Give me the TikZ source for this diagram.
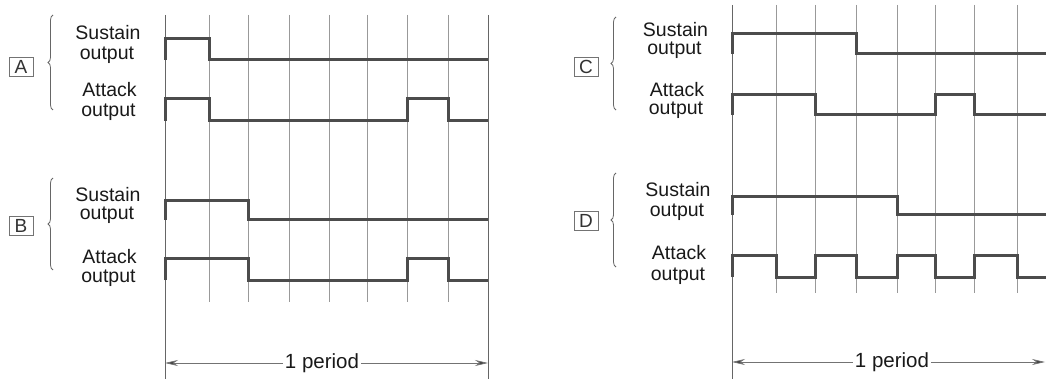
\documentclass[tikz,border=0pt]{standalone}
\usepackage{fontspec}
\setmainfont{Liberation Sans}
\usetikzlibrary{decorations.pathreplacing,arrows.meta}
\begin{document}
\begin{tikzpicture}[x=1pt,y=-1pt,
  grid/.style={line width=0.8pt, draw=black!40},
  edge/.style={line width=1pt, draw=black!60},
  sig/.style={line width=3pt, draw=black!70, line join=miter},
  lbl/.style={font=\fontsize{19.5}{20}\selectfont, text=black!90, inner sep=0pt, anchor=base},
  tag/.style={draw=black!55, line width=0.7pt, font=\fontsize{19}{19}\selectfont, text=black!80, minimum width=24pt, minimum height=19pt, inner sep=0pt},
  brc/.style={draw=black!60, line width=0.8pt, decorate, decoration={brace, amplitude=5pt}},
  per/.style={font=\fontsize{20.5}{21}\selectfont, text=black!90, fill=white, inner sep=2pt},
  parrow/.style={line width=0.7pt, draw=black!55, {Stealth[length=13pt,width=6pt,fill=black!75]}-{Stealth[length=13pt,width=6pt,fill=black!75]}}
]
\useasboundingbox (0,0) rectangle (1046,379);

% ---------- left panel grid ----------
\foreach \x in {209,248,289,329,367,407,448} \draw[grid] (\x,15) -- (\x,302);
\draw[edge] (165,15) -- (165,379);
\draw[edge] (488,15) -- (488,379);

% ---------- right panel grid ----------
\foreach \x in {776,815,856,897,935,974,1017} \draw[grid] (\x,5) -- (\x,293);
\draw[edge] (732,5) -- (732,379);

% ---------- signals A ----------
\draw[sig] (165,60) -- (165,39) -- (209,39) -- (209,60) -- (488,60);
\draw[sig] (165,121) -- (165,99) -- (209,99) -- (209,121) -- (407,121) -- (407,99) -- (448,99) -- (448,121) -- (488,121);
% ---------- signals B ----------
\draw[sig] (165,220) -- (165,201) -- (248,201) -- (248,220) -- (488,220);
\draw[sig] (165,280) -- (165,259) -- (248,259) -- (248,280) -- (407,280) -- (407,259) -- (448,259) -- (448,280) -- (488,280);
% ---------- signals C ----------
\draw[sig] (732,54) -- (732,34) -- (856,34) -- (856,54) -- (1046,54);
\draw[sig] (732,115) -- (732,95) -- (815,95) -- (815,115) -- (935,115) -- (935,95) -- (974,95) -- (974,115) -- (1046,115);
% ---------- signals D ----------
\draw[sig] (732,215) -- (732,197) -- (897,197) -- (897,215) -- (1046,215);
\draw[sig] (732,277) -- (732,256) -- (776,256) -- (776,277) -- (815,277) -- (815,256) -- (856,256) -- (856,277) -- (897,277) -- (897,256) -- (935,256) -- (935,277) -- (974,277) -- (974,256) -- (1017,256) -- (1017,277) -- (1046,277);

% ---------- labels ----------
\node[tag] (tA) at (21,67) {A};
\node[tag] (tB) at (21,226) {B};
\node[tag] (tC) at (586,66.5) {C};
\node[tag] (tD) at (586,220.5) {D};

\draw[brc] (53,110) -- (53,15);
\draw[brc] (53,270) -- (53,178);
\draw[brc] (616,110) -- (616,17);
\draw[brc] (616,267) -- (616,173);

\node[lbl] (As1) at (108,40) {Sustain};
\node[lbl] (As2) at (107,60) {output};
\node[lbl] (Aa1) at (109.5,97) {Attack};
\node[lbl] (Aa2) at (108.5,117) {output};

\node[lbl] (Bs1) at (108,202) {Sustain};
\node[lbl] (Bs2) at (107,220) {output};
\node[lbl] (Ba1) at (109.5,263) {Attack};
\node[lbl] (Ba2) at (108.5,283) {output};

\node[lbl] (Cs1) at (675.5,37) {Sustain};
\node[lbl] (Cs2) at (674.5,55) {output};
\node[lbl] (Ca1) at (677,97) {Attack};
\node[lbl] (Ca2) at (676,115) {output};

\node[lbl] (Ds1) at (678,197) {Sustain};
\node[lbl] (Ds2) at (677,217) {output};
\node[lbl] (Da1) at (679,260) {Attack};
\node[lbl] (Da2) at (678,280) {output};

% ---------- period arrows ----------
\coordinate (pL1) at (165,363);
\coordinate (pR1) at (488,363);
\draw[parrow] (pL1) -- (pR1);
\node[per] (p1) at (322,363) {1 period};

\coordinate (pL2) at (732,362);
\coordinate (pR2) at (1045,362);
\draw[parrow] (pL2) -- (pR2);
\node[per] (p2) at (892,362) {1 period};
\end{tikzpicture}
\end{document}
